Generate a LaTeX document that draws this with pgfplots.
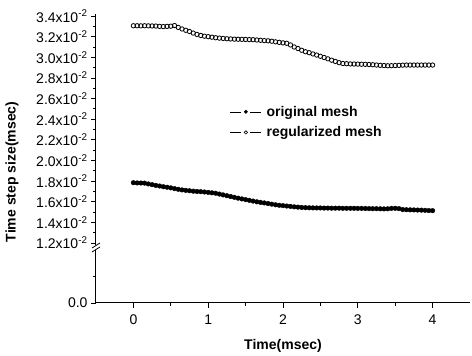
\documentclass[border=0pt]{standalone}
\usepackage{fontspec}
\setmainfont{Liberation Sans}
\usepackage{pgfplots}
\pgfplotsset{compat=1.18}
\pgfplotsset{mystyle/.style={scale only axis, width=374pt, xmin=-0.5, xmax=4.5,
  tick style={black, line width=0.8pt}, major tick length=5pt, minor tick length=3pt,
  tick align=outside, axis line style={line width=1pt},
  tick label style={font=\fontsize{14}{16}\selectfont},
  /pgf/number format/assume math mode=true}}
\begin{document}
\begin{tikzpicture}
\useasboundingbox (-96pt,-53pt) rectangle (376pt,303pt);
% lower part with x axis
\begin{axis}[mystyle, at={(0pt,0pt)}, anchor=south west, height=53pt,
  ymin=0, ymax=1, axis x line*=bottom, axis y line*=left,
  xtick={0,1,2,3,4}, minor xtick={0.5,1.5,2.5,3.5},
  xticklabel style={yshift=-3pt},
  ytick={0}, yticklabels={0.0}, minor ytick={0.5},
  xlabel={Time(msec)}, xlabel style={font=\bfseries\fontsize{14}{16}\selectfont, yshift=-8pt}]
\end{axis}
% upper part with data
\begin{axis}[mystyle, at={(0pt,58pt)}, anchor=south west, height=231pt,
  ymin=0.0118, ymax=0.0342, axis y line*=left, axis x line=none,
  scaled y ticks=false,
  ytick={0.012,0.014,0.016,0.018,0.020,0.022,0.024,0.026,0.028,0.030,0.032,0.034},
  yticklabels={1.2x10\textsuperscript{-2},1.4x10\textsuperscript{-2},1.6x10\textsuperscript{-2},1.8x10\textsuperscript{-2},2.0x10\textsuperscript{-2},2.2x10\textsuperscript{-2},2.4x10\textsuperscript{-2},2.6x10\textsuperscript{-2},2.8x10\textsuperscript{-2},3.0x10\textsuperscript{-2},3.2x10\textsuperscript{-2},3.4x10\textsuperscript{-2}},
  minor ytick={0.013,0.015,0.017,0.019,0.021,0.023,0.025,0.027,0.029,0.031,0.033},
  legend style={at={(rel axis cs:0.35,0.62)}, anchor=north west, draw=none, fill=none,
    font=\bfseries\fontsize{14}{16}\selectfont, row sep=5pt,
    nodes={inner xsep=5pt}},
  legend cell align=left]
\addplot[only marks, mark=*, mark size=2.3pt, black,
  legend image code/.code={\draw[black, line width=0.5pt] (0pt,0pt)--(11pt,0pt) (20pt,0pt)--(31pt,0pt);
    \draw[black, fill=black] (15.5pt,0pt) circle (1.7pt);}]
coordinates {
(0.00,0.01784)(0.05,0.01782)(0.10,0.01781)(0.15,0.01780)(0.20,0.01772)(0.25,0.01765)
(0.30,0.01758)(0.35,0.01752)(0.40,0.01745)(0.45,0.01740)(0.50,0.01734)(0.55,0.01727)
(0.60,0.01720)(0.65,0.01714)(0.70,0.01710)(0.75,0.01706)(0.80,0.01702)(0.85,0.01699)
(0.90,0.01697)(0.95,0.01694)(1.00,0.01690)(1.05,0.01686)(1.10,0.01682)(1.15,0.01674)
(1.20,0.01666)(1.25,0.01658)(1.30,0.01650)(1.35,0.01642)(1.40,0.01634)(1.45,0.01627)
(1.50,0.01620)(1.55,0.01613)(1.60,0.01606)(1.65,0.01599)(1.70,0.01593)(1.75,0.01588)
(1.80,0.01582)(1.85,0.01576)(1.90,0.01570)(1.95,0.01565)(2.00,0.01562)(2.05,0.01558)
(2.10,0.01554)(2.15,0.01550)(2.20,0.01547)(2.25,0.01544)(2.30,0.01542)(2.35,0.01541)
(2.40,0.01540)(2.45,0.01539)(2.50,0.01539)(2.55,0.01538)(2.60,0.01538)(2.65,0.01537)
(2.70,0.01537)(2.75,0.01537)(2.80,0.01536)(2.85,0.01536)(2.90,0.01536)(2.95,0.01536)
(3.00,0.01535)(3.05,0.01535)(3.10,0.01534)(3.15,0.01533)(3.20,0.01532)(3.25,0.01532)
(3.30,0.01531)(3.35,0.01530)(3.40,0.01531)(3.45,0.01535)(3.50,0.01536)(3.55,0.01533)
(3.60,0.01524)(3.65,0.01522)(3.70,0.01521)(3.75,0.01520)(3.80,0.01519)(3.85,0.01518)
(3.90,0.01516)(3.95,0.01514)(4.00,0.01513)
};
\addlegendentry{original mesh}
\addplot[only marks, mark=o, mark size=2.2pt, black, mark options={line width=0.8pt, fill=white},
  legend image code/.code={\draw[black, line width=0.5pt] (0pt,0pt)--(11pt,0pt) (20pt,0pt)--(31pt,0pt);
    \draw[black, line width=0.6pt, fill=white] (15.5pt,0pt) circle (1.7pt);}]
coordinates {
(0.00,0.03306)(0.05,0.03306)(0.10,0.03305)(0.15,0.03306)(0.20,0.03305)(0.25,0.03304)
(0.30,0.03303)(0.35,0.03300)(0.40,0.03298)(0.45,0.03300)(0.50,0.03302)(0.55,0.03308)
(0.60,0.03290)(0.65,0.03275)(0.70,0.03262)(0.75,0.03250)(0.80,0.03235)(0.85,0.03222)
(0.90,0.03212)(0.95,0.03205)(1.00,0.03200)(1.05,0.03195)(1.10,0.03190)(1.15,0.03186)
(1.20,0.03183)(1.25,0.03180)(1.30,0.03178)(1.35,0.03176)(1.40,0.03175)(1.45,0.03174)
(1.50,0.03173)(1.55,0.03172)(1.60,0.03171)(1.65,0.03168)(1.70,0.03165)(1.75,0.03162)
(1.80,0.03160)(1.85,0.03156)(1.90,0.03150)(1.95,0.03145)(2.00,0.03140)(2.05,0.03136)
(2.10,0.03120)(2.15,0.03100)(2.20,0.03085)(2.25,0.03068)(2.30,0.03054)(2.35,0.03045)
(2.40,0.03033)(2.45,0.03022)(2.50,0.03010)(2.55,0.02998)(2.60,0.02985)(2.65,0.02972)
(2.70,0.02960)(2.75,0.02948)(2.80,0.02940)(2.85,0.02938)(2.90,0.02936)(2.95,0.02935)
(3.00,0.02934)(3.05,0.02933)(3.10,0.02932)(3.15,0.02930)(3.20,0.02928)(3.25,0.02925)
(3.30,0.02922)(3.35,0.02920)(3.40,0.02918)(3.45,0.02919)(3.50,0.02920)(3.55,0.02922)
(3.60,0.02924)(3.65,0.02925)(3.70,0.02925)(3.75,0.02925)(3.80,0.02925)(3.85,0.02925)
(3.90,0.02925)(3.95,0.02925)(4.00,0.02925)
};
\addlegendentry{regularized mesh}
\end{axis}
% axis break marks
\draw[line width=0.8pt] (-4pt,51pt)--(4pt,56pt);
\draw[line width=0.8pt] (-4pt,55pt)--(4pt,60pt);
% y label
\node[rotate=90, font=\bfseries\fontsize{14}{16}\selectfont] at (-84pt,131pt) {Time step size(msec)};
\end{tikzpicture}
\end{document}
